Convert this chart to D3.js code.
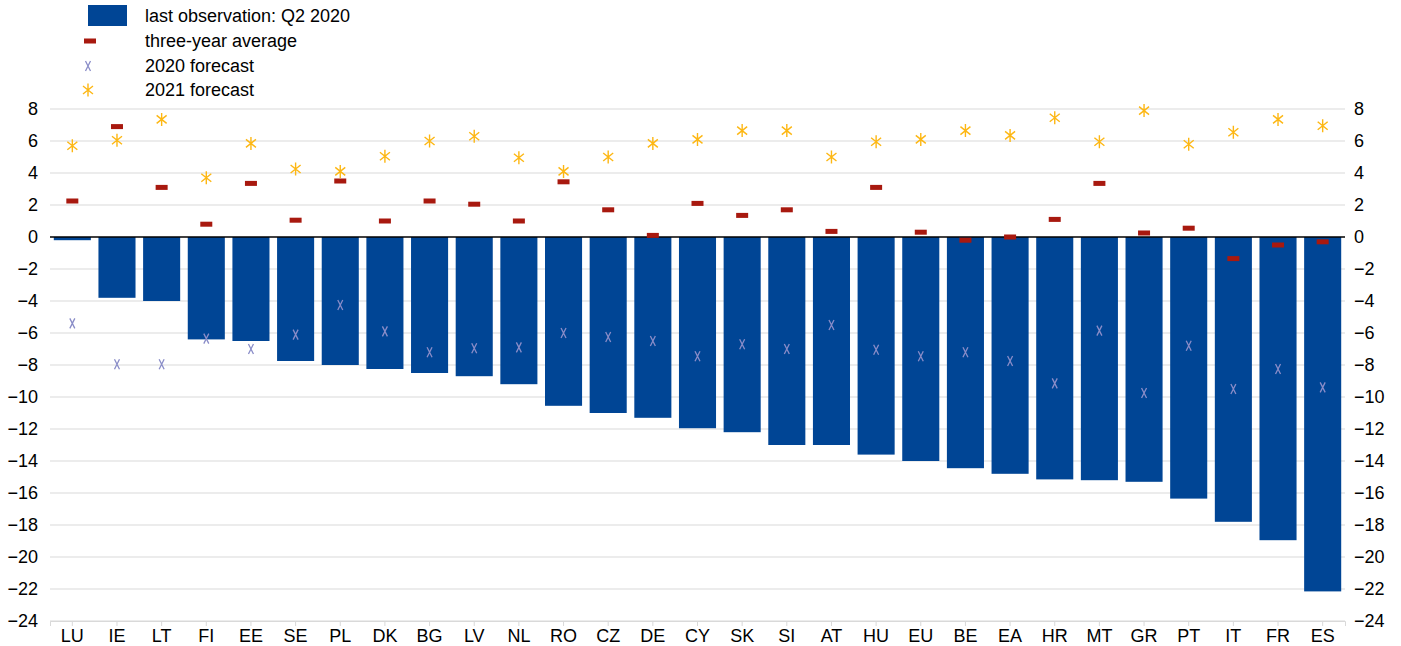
<!DOCTYPE html>
<html>
<head>
<meta charset="utf-8">
<script src="https://cdn.jsdelivr.net/npm/d3@7"></script>
<style>
  body { margin: 0; background: #fff; }
  text { font-family: "Liberation Sans", Arial, sans-serif; fill: #000; }
</style>
</head>
<body>
<svg class="plot" width="1401" height="646"></svg>
<script>
// chart data
var countries = ["LU","IE","LT","FI","EE","SE","PL","DK","BG","LV","NL","RO","CZ","DE","CY",
                 "SK","SI","AT","HU","EU","BE","EA","HR","MT","GR","PT","IT","FR","ES"];
var lastObs = [-0.2,-3.8,-4.0,-6.4,-6.5,-7.75,-8.0,-8.25,-8.5,-8.7,-9.2,-10.55,-11.0,-11.3,-11.95,
               -12.2,-13.0,-13.0,-13.6,-14.0,-14.45,-14.8,-15.15,-15.2,-15.3,-16.35,-17.8,-18.95,-22.15];
var threeYearAvg = [2.25,6.9,3.1,0.8,3.35,1.05,3.5,1.0,2.25,2.05,1.0,3.45,1.7,0.1,2.1,
                    1.35,1.7,0.35,3.1,0.3,-0.2,0.0,1.1,3.35,0.25,0.55,-1.35,-0.5,-0.3];
var forecast2020 = [-5.4,-7.95,-7.95,-6.35,-7.0,-6.1,-4.25,-5.9,-7.2,-6.95,-6.9,-6.0,-6.25,-6.5,-7.45,
                    -6.7,-7.0,-5.5,-7.05,-7.45,-7.2,-7.75,-9.15,-5.85,-9.75,-6.8,-9.5,-8.25,-9.4];
var forecast2021 = [5.7,6.05,7.35,3.7,5.85,4.25,4.1,5.05,6.0,6.3,4.95,4.1,5.0,5.85,6.1,
                    6.65,6.65,5.0,5.95,6.1,6.65,6.35,7.45,5.95,7.9,5.8,6.55,7.35,6.95];
var yTicks = [8,6,4,2,0,-2,-4,-6,-8,-10,-12,-14,-16,-18,-20,-22,-24];
var legendLabels = ["last observation: Q2 2020","three-year average","2020 forecast","2021 forecast"];

var colBar = "#004595", colAvg = "#a8190f", col2020 = "#8a8dc8", col2021 = "#fdb713";

var margin = {top: 109, right: 56, bottom: 25, left: 50},
    width = 1401 - margin.left - margin.right,
    height = 646 - margin.top - margin.bottom;

var data = countries.map(function(c, i) {
    return {c: c, bar: lastObs[i], avg: threeYearAvg[i], f20: forecast2020[i], f21: forecast2021[i]};
});

var x = d3.scaleBand().domain(countries).range([0, width]).paddingInner(0.17).paddingOuter(0.085);
var y = d3.scaleLinear().domain([-24, 8]).range([512, 0]);

var svg = d3.select(".plot");
var plot = svg.append("g").attr("transform", `translate(${margin.left}, ${margin.top})`);

// gridlines
plot.append("g").selectAll("line")
    .data(yTicks.filter(function(t){ return t !== 0; }))
    .enter().append("line")
    .attr("x1", 0).attr("x2", width)
    .attr("y1", function(d){ return y(d); }).attr("y2", function(d){ return y(d); })
    .attr("stroke", "#d9d9d9").attr("stroke-width", 1);

// axis labels left / right
var yl = d3.axisLeft(y).tickValues(yTicks).tickSize(0).tickPadding(12);
plot.append("g").call(yl).call(function(g){ g.select(".domain").remove(); })
    .selectAll("text").style("font-size", "18px");
var yr = d3.axisRight(y).tickValues(yTicks).tickSize(0).tickPadding(9);
plot.append("g").attr("transform", `translate(${width}, 0)`).call(yr)
    .call(function(g){ g.select(".domain").remove(); })
    .selectAll("text").style("font-size", "18px");

// bars
plot.selectAll("rect.bar")
    .data(data).enter().append("rect")
    .attr("class", "bar")
    .attr("x", function(d){ return x(d.c); })
    .attr("width", x.bandwidth())
    .attr("y", function(d){ return y(Math.max(0, d.bar)); })
    .attr("height", function(d){ return Math.abs(y(d.bar) - y(0)); })
    .attr("fill", colBar);

// zero line
plot.append("line").attr("x1", 0).attr("x2", width).attr("y1", y(0)).attr("y2", y(0))
    .attr("stroke", "#000").attr("stroke-width", 1.5);

// bottom axis
var xa = d3.axisBottom(x).tickSize(5).tickPadding(3);
var gx = plot.append("g").attr("transform", `translate(0, ${y(-24)})`).call(xa);
gx.select(".domain").attr("stroke", "#d9d9d9");
gx.selectAll(".tick line").attr("stroke", "#d9d9d9");
gx.selectAll("text").style("font-size", "18px");

function avgMark(g, cx, cy) {
    g.append("rect").attr("x", cx - 6).attr("y", cy - 2.5).attr("width", 12).attr("height", 5)
        .attr("fill", colAvg);
}
function xMark(g, cx, cy) {
    g.append("path")
        .attr("d", `M${cx-2.5},${cy-5}L${cx+2.5},${cy+5}M${cx+2.5},${cy-5}L${cx-2.5},${cy+5}`)
        .attr("stroke", col2020).attr("stroke-width", 1.3).attr("fill", "none");
}
function starMark(g, cx, cy) {
    g.append("path")
        .attr("d", `M${cx},${cy-6.5}L${cx},${cy+6.5}M${cx-5},${cy-4}L${cx+5},${cy+4}M${cx+5},${cy-4}L${cx-5},${cy+4}`)
        .attr("stroke", col2021).attr("stroke-width", 1.4).attr("fill", "none");
}

var marks = plot.append("g");
data.forEach(function(d) {
    var cx = x(d.c) + x.bandwidth() / 2;
    avgMark(marks, cx, y(d.avg));
    xMark(marks, cx, y(d.f20));
    starMark(marks, cx, y(d.f21));
});

// legend
var legend = svg.append("g");
legend.append("rect").attr("x", 88).attr("y", 5).attr("width", 39).attr("height", 21).attr("fill", colBar);
avgMark(legend, 90, 41);
xMark(legend, 88, 66);
starMark(legend, 88, 90);
legend.selectAll("text").data(legendLabels).enter().append("text")
    .attr("x", 145).attr("y", function(d, i){ return [16, 41, 66, 90][i]; })
    .attr("dy", "0.35em").style("font-size", "18px")
    .text(function(d){ return d; });
</script>
</body>
</html>
